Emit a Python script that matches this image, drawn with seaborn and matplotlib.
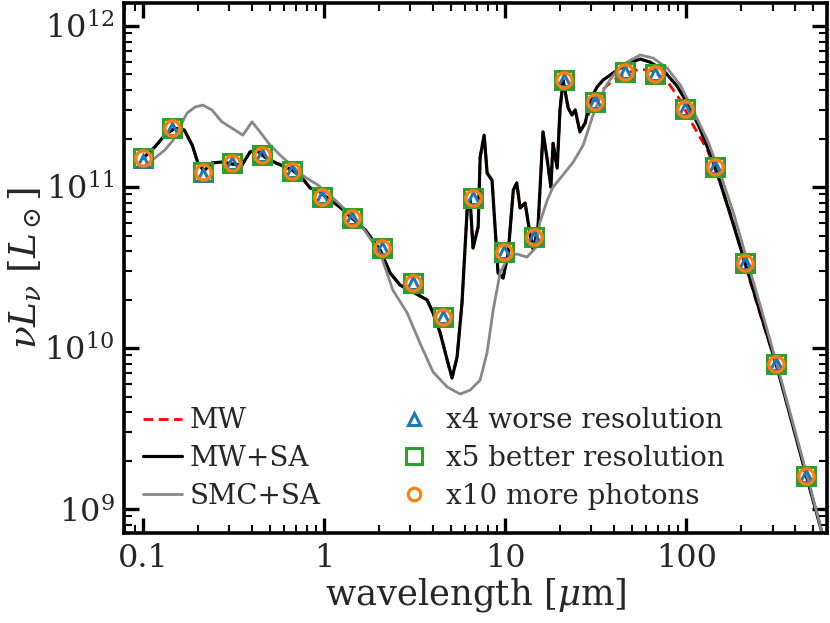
import matplotlib
matplotlib.use("Agg")
import matplotlib.pyplot as plt
import seaborn as sns
from matplotlib.lines import Line2D
from matplotlib.ticker import FixedLocator, FixedFormatter, LogLocator, NullFormatter

# ---------------- data (wavelength in micron, nu L_nu in L_sun) ----------------
wl_mwsa = [0.100, 0.116, 0.132, 0.150, 0.169, 0.187, 0.201, 0.217, 0.240, 0.273,
           0.310, 0.352, 0.390, 0.421, 0.472, 0.543, 0.665, 0.755, 0.838, 0.927,
           1.01, 1.22, 1.43, 1.69, 2.04, 2.32, 2.63, 3.10, 3.71, 4.00,
           4.38, 4.79, 5.09, 5.43, 5.78, 6.17, 6.41, 6.65, 7.10, 7.28,
           7.66, 7.96, 8.47, 9.14, 9.75, 10.4, 11.1, 11.6, 12.1, 12.9,
           13.7, 14.3, 15.2, 16.2, 17.1, 17.9, 18.4, 19.4, 20.1, 20.9,
           22.3, 23.4, 24.4, 25.9, 27.7, 29.5, 32.2, 34.8, 39.5, 47.2,
           55.7, 63.2, 74.6, 89.1, 105, 119, 145, 175, 212, 256,
           314, 380, 460, 578]
L_mwsa = [1.51e11, 1.77e11, 2.10e11, 2.32e11, 2.26e11, 1.82e11, 1.41e11, 1.26e11, 1.41e11, 1.43e11,
          1.39e11, 1.37e11, 1.65e11, 1.70e11, 1.53e11, 1.41e11, 1.28e11, 1.14e11, 9.86e10, 9.57e10,
          8.79e10, 7.52e10, 6.41e10, 5.41e10, 4.06e10, 2.92e10, 2.46e10, 2.23e10, 1.99e10, 1.65e10,
          1.24e10, 8.41e9, 6.52e9, 8.79e9, 1.91e10, 7.19e10, 8.30e10, 4.18e10, 5.65e10, 1.53e11,
          2.10e11, 1.22e11, 1.10e11, 2.92e10, 2.72e10, 3.89e10, 9.57e10, 1.06e11, 7.41e10, 7.96e10,
          5.18e10, 4.06e10, 5.65e10, 2.20e11, 1.47e11, 1.00e11, 1.87e11, 1.31e11, 3.01e11, 4.62e11,
          3.10e11, 2.80e11, 3.01e11, 2.20e11, 2.50e11, 3.47e11, 4.18e11, 4.62e11, 5.11e11, 5.81e11,
          6.24e11, 5.97e11, 5.33e11, 4.24e11, 3.10e11, 2.32e11, 1.33e11, 6.79e10, 3.37e10, 1.67e10,
          7.96e9, 3.62e9, 1.63e9, 6.41e8]

wl_mw = wl_mwsa[:65] + [30.3, 33.5, 39.5, 47.2, 55.7, 65.8, 78.5, 92.7, 109, 131,
                        154, 182, 212, 256, 314, 380, 460, 578]
L_mw = L_mwsa[:65] + [3.23e11, 3.89e11, 4.62e11, 5.11e11, 5.41e11, 5.25e11, 4.55e11, 3.47e11, 2.43e11, 1.70e11,
                      1.07e11, 6.07e10, 3.28e10, 1.63e10, 7.96e9, 3.62e9, 1.63e9, 6.41e8]

wl_smc = [0.100, 0.116, 0.132, 0.147, 0.164, 0.175, 0.194, 0.214, 0.240, 0.273,
          0.310, 0.356, 0.400, 0.443, 0.504, 0.571, 0.649, 0.755, 0.838, 0.914,
          1.12, 1.39, 1.64, 2.04, 2.40, 2.88, 3.39, 4.00, 4.79, 5.64,
          6.41, 7.28, 7.96, 8.59, 9.38, 10.3, 11.6, 13.2, 14.7, 15.6,
          17.1, 18.4, 20.9, 23.8, 27.0, 30.6, 33.5, 36.6, 41.6, 47.2,
          55.7, 65.8, 78.5, 92.7, 109, 131, 154, 182, 217, 263,
          318, 385, 467, 578]
L_smc = [1.33e11, 1.51e11, 1.70e11, 1.96e11, 2.50e11, 2.88e11, 3.14e11, 3.23e11, 3.01e11, 2.54e11,
         2.32e11, 2.10e11, 2.54e11, 2.20e11, 1.82e11, 1.58e11, 1.39e11, 1.19e11, 1.10e11, 1.04e11,
         8.55e10, 6.79e10, 5.56e10, 3.89e10, 2.29e10, 1.65e10, 1.07e10, 7.10e9, 5.73e9, 5.18e9,
         5.48e9, 6.32e9, 9.44e9, 1.72e10, 2.92e10, 3.62e10, 3.84e10, 3.67e10, 4.18e10, 6.07e10,
         8.30e10, 1.00e11, 1.19e11, 1.43e11, 1.82e11, 2.80e11, 3.62e11, 4.37e11, 5.33e11, 5.97e11,
         6.61e11, 6.32e11, 5.48e11, 4.31e11, 3.01e11, 1.96e11, 1.22e11, 7.00e10, 3.52e10, 1.67e10,
         7.83e9, 3.57e9, 1.60e9, 6.41e8]

wl_pts = [0.100, 0.1445, 0.214, 0.310, 0.454, 0.665, 0.975, 1.43, 2.09, 3.10,
          4.54, 6.65, 9.86, 14.5, 21.2, 31.4, 46.0, 67.5, 98.6, 145,
          212, 314, 460]
L_better = [1.51e11, 2.32e11, 1.24e11, 1.41e11, 1.58e11, 1.26e11, 8.67e10, 6.41e10, 4.18e10, 2.54e10,
            1.56e10, 8.55e10, 3.94e10, 4.89e10, 4.62e11, 3.37e11, 5.18e11, 5.04e11, 3.05e11, 1.33e11,
            3.37e10, 7.96e9, 1.60e9]
L_worse = [1.45e11, 2.30e11, 1.19e11, 1.41e11, 1.58e11, 1.26e11, 8.67e10, 6.41e10, 4.18e10, 2.54e10,
           1.56e10, 8.55e10, 3.94e10, 4.89e10, 4.62e11, 3.37e11, 5.18e11, 5.04e11, 3.05e11, 1.33e11,
           3.37e10, 7.96e9, 1.60e9]
L_photons = [1.51e11, 2.32e11, 1.24e11, 1.41e11, 1.58e11, 1.26e11, 8.67e10, 6.41e10, 4.18e10, 2.54e10,
             1.56e10, 8.55e10, 3.94e10, 4.89e10, 4.62e11, 3.37e11, 5.18e11, 5.04e11, 3.05e11, 1.33e11,
             3.37e10, 7.96e9, 1.60e9]

line_labels = ["MW", "MW+SA", "SMC+SA"]
point_labels = ["x4 worse resolution", "x5 better resolution", "x10 more photons"]
xtick_vals = [0.1, 1, 10, 100]
xtick_text = ["0.1", "1", "10", "100"]

# ---------------- style ----------------
sns.set_style("ticks")
plt.rcParams["font.family"] = ["DejaVu Serif"]
plt.rcParams["mathtext.fontset"] = "dejavuserif"

c_blue, c_green, c_orange = "#1f77b4", "#2ca02c", "#ff7f0e"

fig = plt.figure(figsize=(8.3, 6.23), dpi=100)
ax = fig.add_axes([124 / 830, 90 / 623, 703 / 830, 530 / 623])
ax.set_xscale("log")
ax.set_yscale("log")

sns.lineplot(x=wl_mw, y=L_mw, ax=ax, color="red", lw=2.0, linestyle=(0, (3.5, 2)),
             sort=False, estimator=None)
sns.lineplot(x=wl_mwsa, y=L_mwsa, ax=ax, color="black", lw=2.3, sort=False, estimator=None)
sns.lineplot(x=wl_smc, y=L_smc, ax=ax, color="#888888", lw=2.0, sort=False, estimator=None)

sns.lineplot(x=wl_pts, y=L_better, ax=ax, linestyle="", marker="s", markersize=13,
             markerfacecolor="none", markeredgecolor=c_green, markeredgewidth=2.2,
             sort=False, estimator=None)
sns.lineplot(x=wl_pts, y=L_worse, ax=ax, linestyle="", marker="^", markersize=8,
             markerfacecolor="none", markeredgecolor=c_blue, markeredgewidth=2.2,
             sort=False, estimator=None)
sns.lineplot(x=wl_pts, y=L_photons, ax=ax, linestyle="", marker="o", markersize=11,
             markerfacecolor="none", markeredgecolor=c_orange, markeredgewidth=2.4,
             sort=False, estimator=None)

ax.set_xlim(0.0785, 600)
ax.set_ylim(7.1e8, 1.39e12)

ax.xaxis.set_major_locator(FixedLocator(xtick_vals))
ax.xaxis.set_major_formatter(FixedFormatter(xtick_text))
ax.xaxis.set_minor_locator(LogLocator(base=10, subs=range(2, 10), numticks=20))
ax.xaxis.set_minor_formatter(NullFormatter())
ax.yaxis.set_major_locator(LogLocator(base=10, numticks=10))
ax.yaxis.set_minor_locator(LogLocator(base=10, subs=range(2, 10), numticks=20))
ax.yaxis.set_minor_formatter(NullFormatter())

for s in ax.spines.values():
    s.set_linewidth(2.6)
    s.set_color("black")
ax.tick_params(which="both", direction="in", top=True, right=True, color="black")
ax.tick_params(which="major", length=11, width=2.4, pad=7, labelsize=23)
ax.tick_params(which="minor", length=6, width=1.5)

ax.set_xlabel("wavelength [$\\mu$m]", fontsize=25.5, labelpad=2)
ax.set_ylabel("$\\nu L_\\nu\\ [L_\\odot]$", fontsize=27, labelpad=0)

h_lines = [Line2D([], [], color="red", lw=2.0, linestyle=(0, (3.5, 2))),
           Line2D([], [], color="black", lw=2.3),
           Line2D([], [], color="#888888", lw=2.0)]
leg1 = ax.legend(h_lines, line_labels, loc="upper left", bbox_to_anchor=(0.027, 0.237),
                 frameon=False, fontsize=20, handlelength=1.4, handletextpad=0.28,
                 labelspacing=0.38, borderpad=0, borderaxespad=0)
ax.add_artist(leg1)
h_pts = [Line2D([], [], linestyle="", marker="^", markersize=8, markerfacecolor="none",
                markeredgecolor=c_blue, markeredgewidth=2.2),
         Line2D([], [], linestyle="", marker="s", markersize=11, markerfacecolor="none",
                markeredgecolor=c_green, markeredgewidth=2.2),
         Line2D([], [], linestyle="", marker="o", markersize=9, markerfacecolor="none",
                markeredgecolor=c_orange, markeredgewidth=2.2)]
ax.legend(h_pts, point_labels, loc="upper left", bbox_to_anchor=(0.391, 0.237),
          frameon=False, fontsize=20, handlelength=1.1, handletextpad=0.6,
          labelspacing=0.38, borderpad=0, borderaxespad=0, numpoints=1)

fig.savefig("out.png", dpi=100)
